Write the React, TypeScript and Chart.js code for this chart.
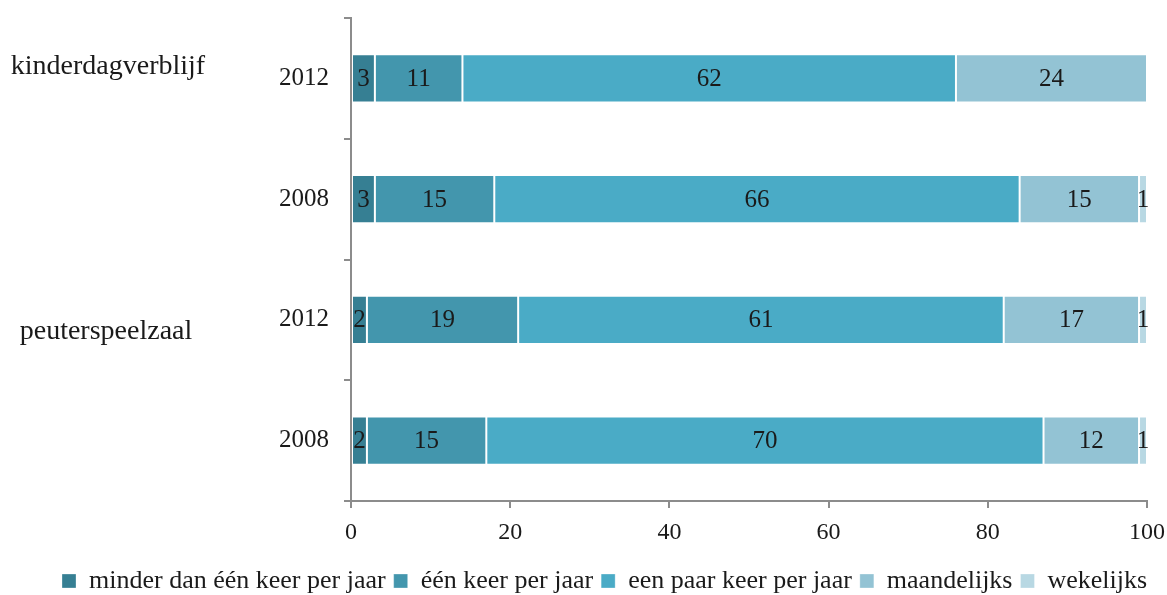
import React, { useEffect, useRef } from "react";
import { Chart, registerables } from "chart.js";

Chart.register(...registerables);

const categories = ["2012", "2008", "2012", "2008"];
const groupLabels = ["kinderdagverblijf", "peuterspeelzaal"];
const seriesNames = [
  "minder dan één keer per jaar",
  "één keer per jaar",
  "een paar keer per jaar",
  "maandelijks",
  "wekelijks",
];
const minderDan = [3, 3, 2, 2];
const eenKeer = [11, 15, 19, 15];
const eenPaar = [62, 66, 61, 70];
const maandelijks = [24, 15, 17, 12];
const wekelijks = [0, 1, 1, 1];
const xTicks = [0, 20, 40, 60, 80, 100];

const colors = ["#367f93", "#4396ad", "#4aabc6", "#93c3d4", "#b8d8e3"];
const FONT = "'Liberation Serif', 'Times New Roman', serif";

const valueLabels = {
  id: "valueLabels",
  afterDatasetsDraw(chart: any) {
    const ctx = chart.ctx;
    ctx.save();
    ctx.font = `25px ${FONT}`;
    ctx.fillStyle = "#1a1a1a";
    ctx.textAlign = "center";
    ctx.textBaseline = "middle";
    chart.data.datasets.forEach((ds: any, di: number) => {
      const meta = chart.getDatasetMeta(di);
      meta.data.forEach((el: any, i: number) => {
        const v = ds.data[i];
        if (!v) return;
        const cx = (el.x + el.base) / 2;
        ctx.fillText(String(v), cx, el.y + 1);
      });
    });
    ctx.restore();
  },
};

const groupLabelPlugin = {
  id: "groupLabels",
  afterDraw(chart: any) {
    const ctx = chart.ctx;
    const y = chart.scales.y;
    ctx.save();
    ctx.font = `28px ${FONT}`;
    ctx.fillStyle = "#1a1a1a";
    ctx.textAlign = "center";
    ctx.textBaseline = "middle";
    ctx.fillText(groupLabels[0], 108, y.getPixelForValue(0) - 12);
    ctx.fillText(groupLabels[1], 106, y.getPixelForValue(2) + 12);
    ctx.restore();
  },
};

export default function App() {
  const ref = useRef<HTMLCanvasElement | null>(null);
  useEffect(() => {
    document.body.style.margin = "0";
    const seriesData = [minderDan, eenKeer, eenPaar, maandelijks, wekelijks];
    const chart = new Chart(ref.current as HTMLCanvasElement, {
      type: "bar",
      data: {
        labels: categories,
        datasets: seriesNames.map((name, i) => ({
          label: name,
          data: seriesData[i],
          backgroundColor: colors[i],
          borderColor: "rgba(255,255,255,0.3)",
          borderWidth: 1,
          borderSkipped: false,
          categoryPercentage: 1,
          barPercentage: 0.4,
        })),
      },
      options: {
        indexAxis: "y",
        animation: false,
        responsive: false,
        layout: { padding: { top: 18, right: 0, left: 54, bottom: -9 } },
        scales: {
          x: {
            stacked: true,
            min: 0,
            max: 100,
            afterBuildTicks: (s: any) => {
              s.ticks = xTicks.map((v) => ({ value: v }));
            },
            afterFit: (s: any) => {
              s.height = 59;
              s.paddingLeft = 0;
              s.paddingRight = 20;
            },
            grid: {
              drawOnChartArea: false,
              drawTicks: true,
              tickLength: 7,
              color: "#8c8c8c",
              lineWidth: 2,
            },
            border: { display: true, color: "#8c8c8c", width: 2 },
            ticks: {
              font: { family: FONT, size: 24 },
              color: "#1a1a1a",
              padding: 10,
            },
          },
          y: {
            stacked: true,
            afterFit: (s: any) => {
              s.width = 297;
              s.paddingTop = 0;
              s.paddingBottom = 0;
            },
            grid: {
              offset: true,
              drawOnChartArea: false,
              drawTicks: true,
              tickLength: 7,
              color: "#8c8c8c",
              lineWidth: 2,
            },
            border: { display: true, color: "#8c8c8c", width: 2 },
            ticks: {
              font: { family: FONT, size: 25 },
              color: "#1a1a1a",
              padding: 15,
            },
          },
        },
        plugins: {
          legend: {
            position: "bottom",
            align: "start",
            labels: {
              boxWidth: 14,
              boxHeight: 14,
              padding: 8,
              font: { family: FONT, size: 26 },
              color: "#1a1a1a",
            },
          },
          tooltip: { enabled: false },
        },
      },
      plugins: [valueLabels, groupLabelPlugin],
    } as any);
    return () => chart.destroy();
  }, []);
  return (
    <div style={{ width: 1167, height: 595 }}>
      <canvas ref={ref} width={1167} height={595} />
    </div>
  );
}
